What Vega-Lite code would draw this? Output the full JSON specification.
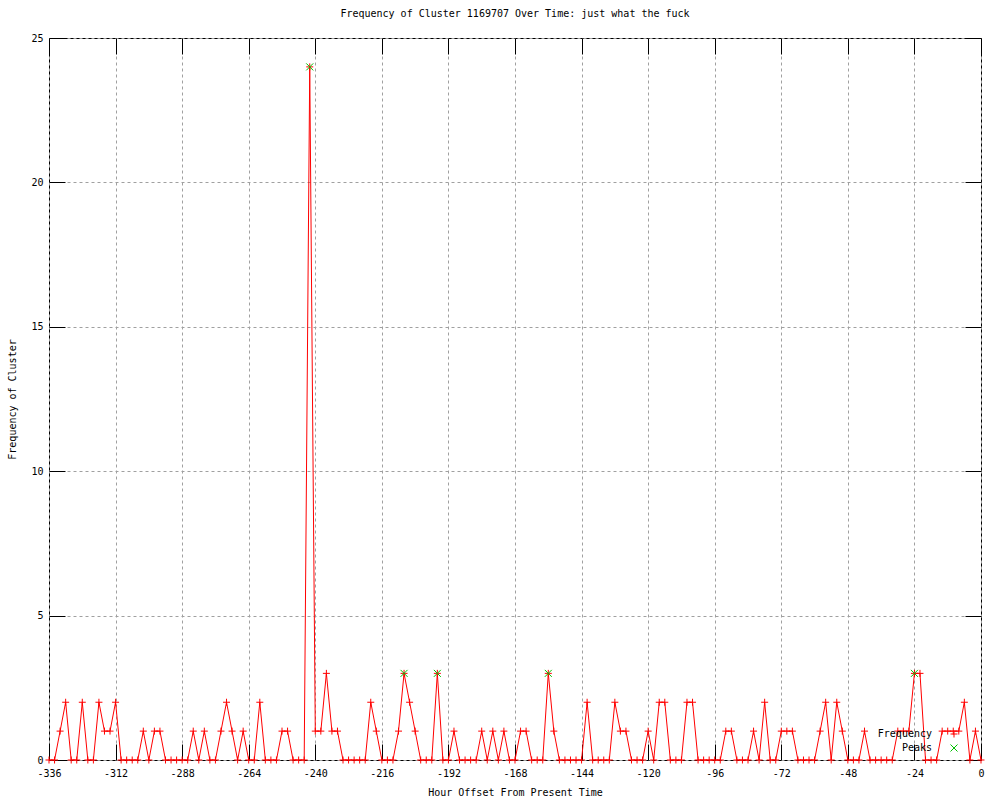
{
  "$schema": "https://vega.github.io/schema/vega-lite/v6.json",
  "width": 932,
  "height": 722,
  "autosize": {"type": "none"},
  "padding": {"left": 49, "top": 38, "right": 19, "bottom": 40},
  "background": "white",
  "title": {"text": "Frequency of Cluster 1169707 Over Time: just what the fuck", "font": "DejaVu Sans Mono", "fontSize": 10, "fontWeight": "normal", "color": "#000000", "offset": 14, "anchor": "middle"},
  "config": {
    "view": {"stroke": "#000000", "strokeWidth": 1},
    "axis": {"domain": false, "labelFont": "DejaVu Sans Mono", "labelFontSize": 10, "labelColor": "#000000", "titleFont": "DejaVu Sans Mono", "titleFontSize": 10, "titleFontWeight": "normal", "titleColor": "#000000", "tickColor": "#000000", "tickSize": -16, "tickWidth": 1, "gridColor": "#a0a0a0", "gridDash": [3, 3], "gridOpacity": 1, "gridWidth": 1}
  },
  "datasets": {
    "freq": [
      {"h": -336, "f": 0}, {"h": -334, "f": 0}, {"h": -332, "f": 1}, {"h": -330, "f": 2}, {"h": -328, "f": 0}, {"h": -326, "f": 0}, {"h": -324, "f": 2}, {"h": -322, "f": 0}, {"h": -320, "f": 0}, {"h": -318, "f": 2},
      {"h": -316, "f": 1}, {"h": -314, "f": 1}, {"h": -312, "f": 2}, {"h": -310, "f": 0}, {"h": -308, "f": 0}, {"h": -306, "f": 0}, {"h": -304, "f": 0}, {"h": -302, "f": 1}, {"h": -300, "f": 0}, {"h": -298, "f": 1},
      {"h": -296, "f": 1}, {"h": -294, "f": 0}, {"h": -292, "f": 0}, {"h": -290, "f": 0}, {"h": -288, "f": 0}, {"h": -286, "f": 0}, {"h": -284, "f": 1}, {"h": -282, "f": 0}, {"h": -280, "f": 1}, {"h": -278, "f": 0},
      {"h": -276, "f": 0}, {"h": -274, "f": 1}, {"h": -272, "f": 2}, {"h": -270, "f": 1}, {"h": -268, "f": 0}, {"h": -266, "f": 1}, {"h": -264, "f": 0}, {"h": -262, "f": 0}, {"h": -260, "f": 2}, {"h": -258, "f": 0},
      {"h": -256, "f": 0}, {"h": -254, "f": 0}, {"h": -252, "f": 1}, {"h": -250, "f": 1}, {"h": -248, "f": 0}, {"h": -246, "f": 0}, {"h": -244, "f": 0}, {"h": -242, "f": 24}, {"h": -240, "f": 1}, {"h": -238, "f": 1},
      {"h": -236, "f": 3}, {"h": -234, "f": 1}, {"h": -232, "f": 1}, {"h": -230, "f": 0}, {"h": -228, "f": 0}, {"h": -226, "f": 0}, {"h": -224, "f": 0}, {"h": -222, "f": 0}, {"h": -220, "f": 2}, {"h": -218, "f": 1},
      {"h": -216, "f": 0}, {"h": -214, "f": 0}, {"h": -212, "f": 0}, {"h": -210, "f": 1}, {"h": -208, "f": 3}, {"h": -206, "f": 2}, {"h": -204, "f": 1}, {"h": -202, "f": 0}, {"h": -200, "f": 0}, {"h": -198, "f": 0},
      {"h": -196, "f": 3}, {"h": -194, "f": 0}, {"h": -192, "f": 0}, {"h": -190, "f": 1}, {"h": -188, "f": 0}, {"h": -186, "f": 0}, {"h": -184, "f": 0}, {"h": -182, "f": 0}, {"h": -180, "f": 1}, {"h": -178, "f": 0},
      {"h": -176, "f": 1}, {"h": -174, "f": 0}, {"h": -172, "f": 1}, {"h": -170, "f": 0}, {"h": -168, "f": 0}, {"h": -166, "f": 1}, {"h": -164, "f": 1}, {"h": -162, "f": 0}, {"h": -160, "f": 0}, {"h": -158, "f": 0},
      {"h": -156, "f": 3}, {"h": -154, "f": 1}, {"h": -152, "f": 0}, {"h": -150, "f": 0}, {"h": -148, "f": 0}, {"h": -146, "f": 0}, {"h": -144, "f": 0}, {"h": -142, "f": 2}, {"h": -140, "f": 0}, {"h": -138, "f": 0},
      {"h": -136, "f": 0}, {"h": -134, "f": 0}, {"h": -132, "f": 2}, {"h": -130, "f": 1}, {"h": -128, "f": 1}, {"h": -126, "f": 0}, {"h": -124, "f": 0}, {"h": -122, "f": 0}, {"h": -120, "f": 1}, {"h": -118, "f": 0},
      {"h": -116, "f": 2}, {"h": -114, "f": 2}, {"h": -112, "f": 0}, {"h": -110, "f": 0}, {"h": -108, "f": 0}, {"h": -106, "f": 2}, {"h": -104, "f": 2}, {"h": -102, "f": 0}, {"h": -100, "f": 0}, {"h": -98, "f": 0},
      {"h": -96, "f": 0}, {"h": -94, "f": 0}, {"h": -92, "f": 1}, {"h": -90, "f": 1}, {"h": -88, "f": 0}, {"h": -86, "f": 0}, {"h": -84, "f": 0}, {"h": -82, "f": 1}, {"h": -80, "f": 0}, {"h": -78, "f": 2},
      {"h": -76, "f": 0}, {"h": -74, "f": 0}, {"h": -72, "f": 1}, {"h": -70, "f": 1}, {"h": -68, "f": 1}, {"h": -66, "f": 0}, {"h": -64, "f": 0}, {"h": -62, "f": 0}, {"h": -60, "f": 0}, {"h": -58, "f": 1},
      {"h": -56, "f": 2}, {"h": -54, "f": 0}, {"h": -52, "f": 2}, {"h": -50, "f": 1}, {"h": -48, "f": 0}, {"h": -46, "f": 0}, {"h": -44, "f": 0}, {"h": -42, "f": 1}, {"h": -40, "f": 0}, {"h": -38, "f": 0},
      {"h": -36, "f": 0}, {"h": -34, "f": 0}, {"h": -32, "f": 0}, {"h": -30, "f": 1}, {"h": -28, "f": 1}, {"h": -26, "f": 1}, {"h": -24, "f": 3}, {"h": -22, "f": 3}, {"h": -20, "f": 0}, {"h": -18, "f": 0},
      {"h": -16, "f": 0}, {"h": -14, "f": 1}, {"h": -12, "f": 1}, {"h": -10, "f": 1}, {"h": -8, "f": 1}, {"h": -6, "f": 2}, {"h": -4, "f": 0}, {"h": -2, "f": 1}, {"h": 0, "f": 0}
    ],
    "peaks": [
      {"h": -242, "f": 24}, {"h": -208, "f": 3}, {"h": -196, "f": 3}, {"h": -156, "f": 3}, {"h": -24, "f": 3}
    ]
  },
  "layer": [
    {
      "data": {"name": "freq"},
      "mark": {"type": "line", "color": "#ff0000", "strokeWidth": 1},
      "encoding": {
        "x": {"field": "h", "type": "quantitative", "scale": {"domain": [-336, 0], "nice": false, "zero": false},
          "axis": {"orient": "bottom", "values": [-336, -312, -288, -264, -240, -216, -192, -168, -144, -120, -96, -72, -48, -24, 0], "labelExpr": "datum.value + ''", "grid": true, "labelPadding": 24, "labelFlush": false, "labelOverlap": false, "title": "Hour Offset From Present Time", "titlePadding": 9}},
        "y": {"field": "f", "type": "quantitative", "scale": {"domain": [0, 25], "nice": false, "zero": true},
          "axis": {"orient": "left", "values": [0, 5, 10, 15, 20, 25], "labelExpr": "datum.value + ''", "grid": true, "labelPadding": 22, "labelFlush": false, "labelOverlap": false, "title": "Frequency of Cluster", "titlePadding": 13}}
      }
    },
    {
      "data": {"name": "freq"},
      "mark": {"type": "point", "filled": false, "strokeWidth": 1, "size": 49, "opacity": 1},
      "encoding": {
        "x": {"field": "h", "type": "quantitative", "axis": {"orient": "top", "values": [-336, -312, -288, -264, -240, -216, -192, -168, -144, -120, -96, -72, -48, -24, 0], "grid": false, "labels": false, "title": null}},
        "y": {"field": "f", "type": "quantitative", "axis": {"orient": "right", "values": [0, 5, 10, 15, 20, 25], "grid": false, "labels": false, "title": null}},
        "color": {"datum": "Frequency", "scale": {"domain": ["Frequency", "Peaks"], "range": ["#ff0000", "#00c000"]},
          "legend": {"title": null, "orient": "none", "legendX": 900, "legendY": 691, "labelAlign": "right", "labelOffset": -27, "labelFont": "DejaVu Sans Mono", "labelFontSize": 10, "labelColor": "#000000", "symbolStrokeWidth": 1, "symbolSize": 49, "rowPadding": 2,
            "encode": {"symbols": {"update": {"shape": {"signal": "datum.value === 'Frequency' ? 'M-1,0H1M0,-0.25V0.25' : 'M-1,-1L1,1M-1,1L1,-1'"}, "size": {"signal": "datum.value === 'Frequency' ? 900 : 49"}}}}}},
        "shape": {"datum": "Frequency", "scale": {"domain": ["Frequency", "Peaks"], "range": ["M-1,0H1M0,-1V1", "M-1,-1L1,1M-1,1L1,-1"]},
          "legend": {"title": null, "orient": "none", "legendX": 900, "legendY": 691, "labelAlign": "right", "labelOffset": -27, "labelFont": "DejaVu Sans Mono", "labelFontSize": 10, "labelColor": "#000000", "symbolStrokeWidth": 1, "symbolSize": 49, "rowPadding": 2,
            "encode": {"symbols": {"update": {"shape": {"signal": "datum.value === 'Frequency' ? 'M-1,0H1M0,-0.25V0.25' : 'M-1,-1L1,1M-1,1L1,-1'"}, "size": {"signal": "datum.value === 'Frequency' ? 900 : 49"}}}}}}
      }
    },
    {
      "data": {"name": "peaks"},
      "mark": {"type": "point", "filled": false, "strokeWidth": 1, "size": 49, "opacity": 1},
      "encoding": {
        "x": {"field": "h", "type": "quantitative", "axis": null},
        "y": {"field": "f", "type": "quantitative", "axis": null},
        "color": {"datum": "Peaks"},
        "shape": {"datum": "Peaks"}
      }
    }
  ],
  "resolve": {"axis": {"x": "independent", "y": "independent"}}
}
